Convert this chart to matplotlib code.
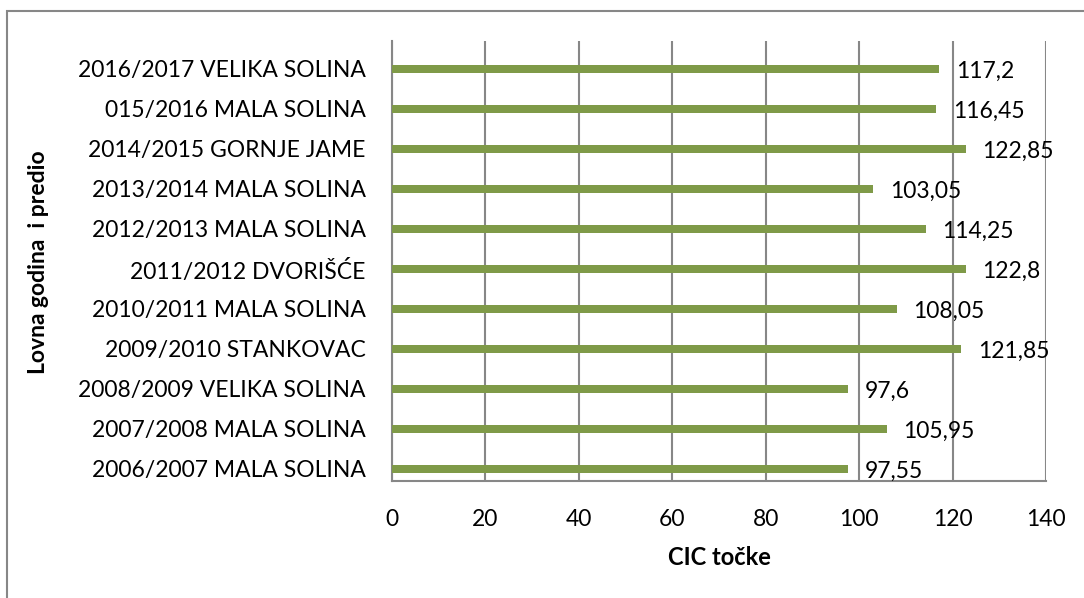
import matplotlib.pyplot as plt
from matplotlib.patches import Rectangle

# data (bottom to top as in chart)
categories = ['2006/2007 MALA SOLINA', '2007/2008 MALA SOLINA', '2008/2009 VELIKA SOLINA',
              '2009/2010 STANKOVAC', '2010/2011 MALA SOLINA', '2011/2012 DVORIŠĆE',
              '2012/2013 MALA SOLINA', '2013/2014 MALA SOLINA', '2014/2015 GORNJE JAME',
              '015/2016 MALA SOLINA', '2016/2017 VELIKA SOLINA']
values = [97.55, 105.95, 97.6, 121.85, 108.05, 122.8, 114.25, 103.05, 122.85, 116.45, 117.2]
value_labels = ['97,55', '105,95', '97,6', '121,85', '108,05', '122,8',
                '114,25', '103,05', '122,85', '116,45', '117,2']
xticks = [0, 20, 40, 60, 80, 100, 120, 140]

plt.rcParams['font.family'] = ['Lato', 'DejaVu Sans']

W, H = 1084, 598
fig = plt.figure(figsize=(W / 100, H / 100), dpi=100)
ax = fig.add_axes([392 / W, 1 - 481 / H, (1046 - 392) / W, (481 - 41) / H])

bar_color = '#7F9A48'
grid_color = '#878787'
fs = 16.5

y = range(len(categories))
ax.barh(y, values, height=0.2, color=bar_color, zorder=3)
for yi, v, lab in zip(y, values, value_labels):
    ax.annotate(lab, (v, yi), xytext=(12, -2), textcoords='offset points',
                va='center', ha='left', fontsize=fs, zorder=4)

ax.set_xlim(0, 140)
ax.set_ylim(-0.3, len(categories) - 0.3)
ax.set_xticks(xticks)
ax.set_xticklabels([str(t) for t in xticks], fontsize=fs)
ax.set_yticks(list(y))
ax.set_yticklabels(categories, fontsize=fs)
ax.tick_params(axis='x', length=0, pad=20)
ax.tick_params(axis='y', length=0, pad=19)
ax.grid(axis='x', color=grid_color, linewidth=1.5, zorder=0)
for side in ['top', 'right']:
    ax.spines[side].set_visible(False)
ax.spines['left'].set_color(grid_color)
ax.spines['left'].set_linewidth(1.5)
ax.spines['bottom'].set_color(grid_color)
ax.spines['bottom'].set_linewidth(1.5)

ax.set_xlabel('CIC točke', fontsize=17, fontweight='bold', labelpad=12)
fig.text(39 / W, 1 - 262 / H, 'Lovna godina  i predio', rotation=90,
         fontsize=16.5, fontweight='bold', ha='center', va='center')

# outer chart border
fig.patches.append(Rectangle((7 / W, -0.01), 1.05, 1 - 11 / H + 0.01,
                             transform=fig.transFigure, fill=False,
                             edgecolor='#878787', linewidth=1.5))

fig.savefig('out.png', dpi=100)
